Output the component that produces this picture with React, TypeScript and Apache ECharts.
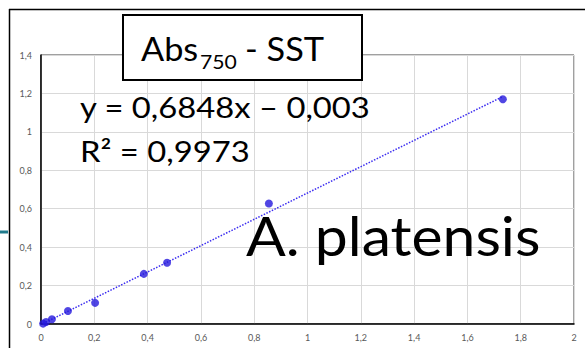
import React, { useEffect, useRef } from "react";
import * as echarts from "echarts";

const xValues = [0.008, 0.019, 0.041, 0.101, 0.203, 0.386, 0.473, 0.855, 1.733];
const yValues = [0.002, 0.010, 0.025, 0.068, 0.110, 0.261, 0.319, 0.627, 1.170];
const slope = 0.6848;
const intercept = -0.003;
const titleMain = "Abs";
const titleSub = "750";
const titleRest = "- SST";
const equationText = "y = 0,6848x \u2013 0,003";
const r2Text = "R\u00b2 = 0,9973";
const speciesText = "A. platensis";

const fmt = (v: number) => String(Math.round(v * 10) / 10).replace(".", ",");

export default function App() {
  const ref = useRef<HTMLDivElement>(null);
  useEffect(() => {
    if (!ref.current) return;
    const chart = echarts.init(ref.current, undefined, { renderer: "svg" });
    const pts = xValues.map((x, i) => [x, yValues[i]]);
    const x0 = xValues[0];
    const x1 = xValues[xValues.length - 1];
    const trend = [
      [x0, slope * x0 + intercept],
      [x1, slope * x1 + intercept],
    ];
    const font = "Lato, 'Open Sans', sans-serif";
    chart.setOption({
      animation: false,
      backgroundColor: "#ffffff",
      grid: {
        left: 41,
        right: 11,
        top: 55,
        bottom: 24,
        show: true,
        borderColor: "#404040",
        borderWidth: 1,
      },
      xAxis: {
        type: "value",
        min: 0,
        max: 2,
        interval: 0.2,
        axisLine: { show: true, onZero: false, lineStyle: { color: "#000", width: 1.5 } },
        axisTick: { show: false },
        splitLine: { show: true, lineStyle: { color: "#d9d9d9", width: 1 } },
        axisLabel: { formatter: fmt, color: "#595959", fontSize: 9, fontFamily: font, margin: 9 },
      },
      yAxis: {
        type: "value",
        min: 0,
        max: 1.4,
        interval: 0.2,
        axisLine: { show: true, onZero: false, lineStyle: { color: "#000", width: 1.5 } },
        axisTick: { show: false },
        splitLine: { show: true, lineStyle: { color: "#d9d9d9", width: 1 } },
        axisLabel: { formatter: fmt, color: "#595959", fontSize: 9, fontFamily: font, margin: 9 },
      },
      series: [
        {
          type: "line",
          data: trend,
          symbol: "none",
          lineStyle: { color: "#3b2cf0", width: 1.5, type: [1.5, 1.5] },
          z: 2,
        },
        {
          type: "scatter",
          data: pts,
          symbolSize: 8,
          itemStyle: { color: "#2418dc" },
          z: 3,
        },
      ],
      graphic: [
        { type: "line", shape: { x1: 9, y1: 9.5, x2: 585, y2: 9.5 }, style: { stroke: "#000", lineWidth: 1.5 }, z: 10 },
        { type: "line", shape: { x1: 9.5, y1: 9, x2: 9.5, y2: 348 }, style: { stroke: "#000", lineWidth: 1.5 }, z: 10 },
        { type: "line", shape: { x1: 0, y1: 232, x2: 8, y2: 232 }, style: { stroke: "#1f7a8c", lineWidth: 3 }, z: 10 },
        {
          type: "rect",
          shape: { x: 123, y: 15, width: 239, height: 65 },
          style: { fill: "#ffffff", stroke: "#000", lineWidth: 2 },
          z: 20,
        },
        {
          type: "text",
          x: 141,
          y: 48,
          scaleX: 1.04,
          style: { text: titleMain, fontSize: 33, fontFamily: font, fill: "#000", verticalAlign: "middle", align: "left" },
          z: 21,
        },
        {
          type: "text",
          x: 200,
          y: 61,
          scaleX: 1.06,
          style: { text: titleSub, fontSize: 20, fontFamily: font, fill: "#000", verticalAlign: "middle", align: "left" },
          z: 21,
        },
        {
          type: "text",
          x: 245,
          y: 48,
          scaleX: 1.04,
          style: { text: titleRest, fontSize: 33, fontFamily: font, fill: "#000", verticalAlign: "middle", align: "left" },
          z: 21,
        },
        {
          type: "text",
          x: 80,
          y: 107,
          scaleX: 1.13,
          style: { text: equationText, fontSize: 29, fontFamily: font, fill: "#000", verticalAlign: "middle", align: "left" },
          z: 21,
        },
        {
          type: "text",
          x: 80,
          y: 151,
          scaleX: 1.13,
          style: { text: r2Text, fontSize: 29, fontFamily: font, fill: "#000", verticalAlign: "middle", align: "left" },
          z: 21,
        },
        {
          type: "text",
          x: 246,
          y: 235,
          scaleX: 1.09,
          style: { text: speciesText, fontSize: 54, fontFamily: font, fill: "#000", verticalAlign: "middle", align: "left" },
          z: 21,
        },
      ],
    });
    return () => chart.dispose();
  }, []);
  return <div ref={ref} style={{ width: 585, height: 348, position: "absolute", left: 0, top: 0 }} />;
}
